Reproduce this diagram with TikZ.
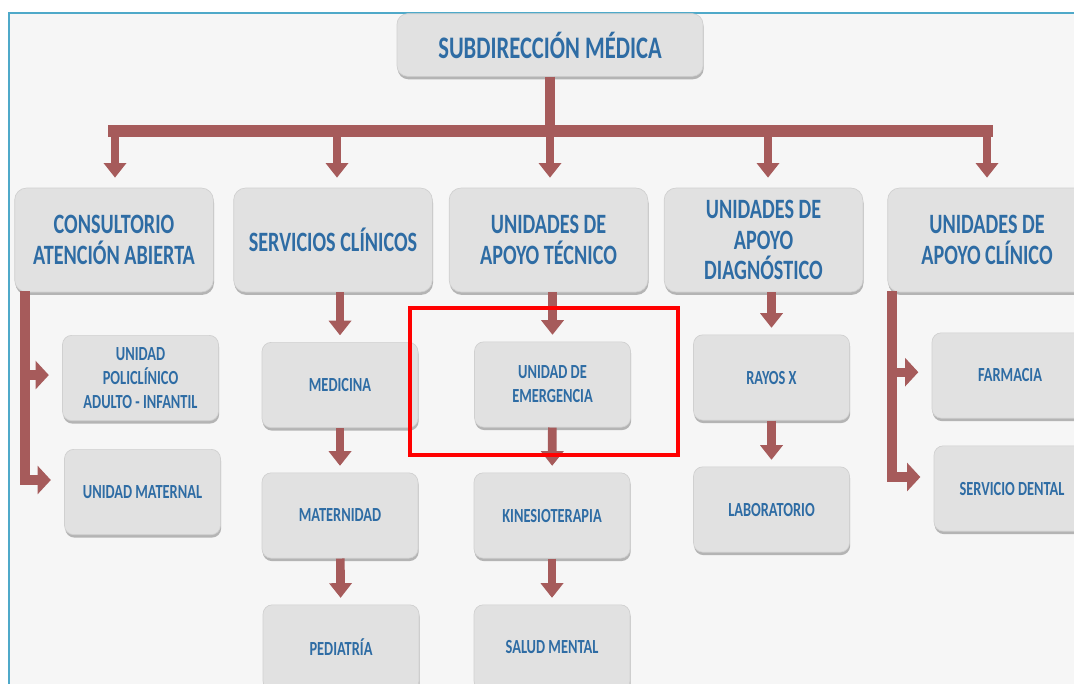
\documentclass[tikz,border=0pt]{standalone}
\usepackage{fontspec}
\usetikzlibrary{arrows.meta,shadows}
\newfontfamily\chartfont[FakeStretch=0.72]{Carlito}
\definecolor{panel}{HTML}{F6F6F6}
\definecolor{frameblue}{HTML}{4FA9C9}
\definecolor{boxfill}{HTML}{E1E1E1}
\definecolor{boxline}{HTML}{D0D0D0}
\definecolor{txtblue}{HTML}{2E6CA4}
\definecolor{arrowred}{HTML}{A65B5B}
\tikzset{
  box/.style={draw=boxline, line width=0.5pt, fill=boxfill, inner sep=0pt, align=center,
    text=txtblue, font=\chartfont\bfseries,
    drop shadow={shadow xshift=0.5pt, shadow yshift=-2.2pt, opacity=0.5, fill=black!55}},
  topbox/.style={box, rounded corners=8pt, minimum width=229.5pt, minimum height=47pt,
    font=\chartfont\bfseries\fontsize{23.5}{25}\selectfont},
  headbox/.style={box, rounded corners=9pt, minimum width=149pt, minimum height=78pt,
    font=\chartfont\bfseries\fontsize{21}{23}\selectfont},
  unitbox/.style={box, rounded corners=7pt, minimum width=117pt, minimum height=64pt,
    font=\chartfont\bfseries\fontsize{15}{18}\selectfont},
  trunk/.style={draw=arrowred, line width=9pt},
  stem/.style={draw=arrowred, line width=7pt},
  conn/.style={draw=arrowred, line width=6.5pt,
    -{Triangle[width=16.5pt,length=11pt]}, shorten >=5pt},
  side/.style={draw=arrowred, line width=7pt, line join=miter,
    -{Triangle[width=21pt,length=10pt]}, shorten >=10pt},
}
\begin{document}
\begin{tikzpicture}[x=0.75pt, y=-0.75pt]
\clip (0,0) rectangle (1074,683);
\useasboundingbox (0,0) rectangle (1074,683);
% page and framed panel
\fill[white] (0,0) rectangle (1074,683);
\fill[panel] (9,13) rectangle (1080,690);
\draw[frameblue, line width=1.6pt] (9,690) -- (9,13) -- (1080,13);

% top of the hierarchy
\node[topbox] (top) at (550,45) {SUBDIRECCIÓN MÉDICA};

% first level
\node[headbox] (cons) at (114,240) {CONSULTORIO\\ATENCIÓN ABIERTA};
\node[headbox] (serv) at (333,240) {SERVICIOS CLÍNICOS};
\node[headbox] (tec)  at (548.5,240) {UNIDADES DE\\APOYO TÉCNICO};
\node[headbox] (diag) at (763.5,240) {UNIDADES DE\\APOYO\\DIAGNÓSTICO};
\node[headbox] (clin) at (987,240) {UNIDADES DE\\APOYO CLÍNICO};

% second level
\node[unitbox] (poli) at (140.5,378) {UNIDAD\\POLICLÍNICO\\ADULTO - INFANTIL};
\node[unitbox] (umat) at (142.5,492) {UNIDAD MATERNAL};
\node[unitbox] (med)  at (340,385) {MEDICINA};
\node[unitbox] (mater) at (340,515.5) {MATERNIDAD};
\node[unitbox] (ped)  at (341,647.5) {PEDIATRÍA};
\node[unitbox] (emer) at (552.5,384.5) {UNIDAD DE\\EMERGENCIA};
\node[unitbox] (kine) at (552,515.5) {KINESIOTERAPIA};
\node[unitbox] (salud) at (552,647.5) {SALUD MENTAL};
\node[unitbox] (rayos) at (771.5,377.5) {RAYOS X};
\node[unitbox] (lab)  at (771.5,509.5) {LABORATORIO};
\node[unitbox] (farm) at (1010,375.5) {FARMACIA};
\node[unitbox] (dent) at (1012,488.5) {SERVICIO DENTAL};

% distribution bar under the top box
\coordinate (barL) at (108,131);
\coordinate (barR) at (993,131);
\draw[stem] (top.south) -- (top.south |- barL);
\draw[trunk] (barL) -- (barR);
\foreach \n/\ax in {cons/115, serv/337, tec/550, diag/768, clin/987}{
  \coordinate (d\n) at (\ax,135);
  \draw[conn, shorten >=7.5pt] (d\n) -- (\n.north -| d\n);
}

% vertical chains
\draw[conn] (med.north |- serv.south) -- (med.north);
\draw[conn] (med) -- (mater);
\draw[conn] (mater) -- (ped);
\draw[conn] (emer.north |- tec.south) -- (emer.north);
\draw[conn] (emer) -- (kine);
\draw[conn] (kine) -- (salud);
\draw[conn] (rayos.north |- diag.south) -- (rayos.north);
\draw[conn] (rayos) -- (lab);

% side branches
\coordinate (lb) at (25,291);
\draw[side] (lb) |- ([yshift=9pt]umat.west);
\draw[side] ([yshift=2.2pt]poli.west -| lb) -- ([yshift=2.2pt]poli.west);
\coordinate (rb) at (892,291);
\draw[side] (rb) |- ([yshift=8.6pt]dent.west);
\draw[side] ([yshift=2.5pt]farm.west -| rb) -- ([yshift=2.5pt]farm.west);

% highlight frame
\draw[red, line width=3pt] (410,308) rectangle (678,455);
\end{tikzpicture}
\end{document}
